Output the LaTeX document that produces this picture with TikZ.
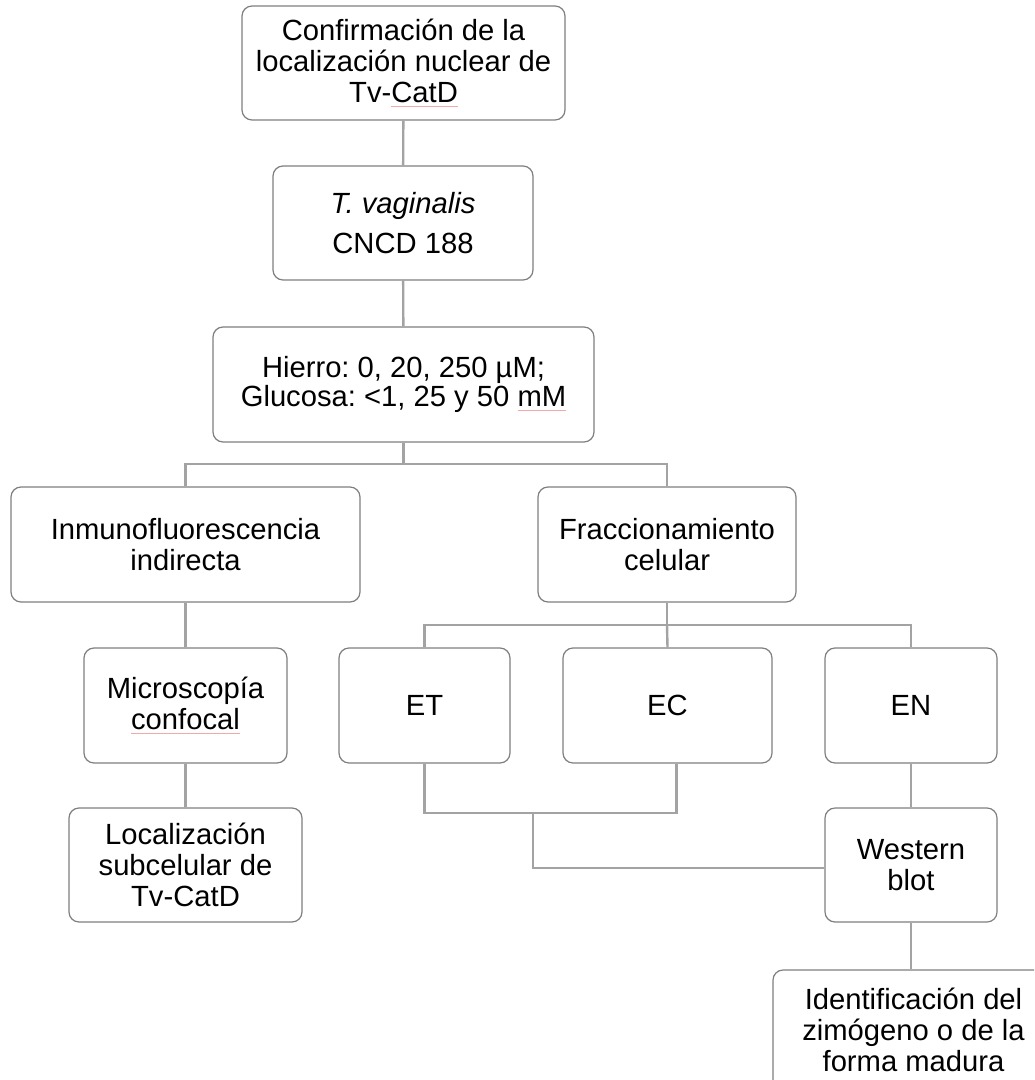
\documentclass[tikz,border=0pt]{standalone}
\usepackage{fontspec}
\setmainfont{Liberation Sans}
\usepackage{xcolor}
\usepackage{tikz}
\definecolor{boxline}{HTML}{7f7f7f}
\definecolor{linkline}{HTML}{a3a3a3}
\definecolor{spellred}{HTML}{f2a9a9}
\newcommand{\spellmark}[1]{\setbox0\hbox{#1}\leavevmode\rlap{\color{spellred}\rule[-2.2pt]{\wd0}{0.5pt}}\box0}
\frenchspacing
\tikzset{
    flowbox/.style={
        draw=boxline,
        line width=0.6pt,
        rounded corners=5pt,
        fill=white,
        align=center,
        inner sep=0pt,
        font=\fontsize{14.6}{15.5}\selectfont
    },
    link/.style={draw=linkline, line width=1.2pt},
}

\begin{document}
\begin{tikzpicture}[x=0.5pt, y=-0.5pt]
        \def\px{0.5pt}
        \useasboundingbox (0,0) rectangle (1034,1080);
        \clip (0,0) rectangle (1034,1080);

        % Main column
        \node[flowbox, minimum width=323*\px, minimum height=114*\px] (conf) at (403.5,63)
            {Confirmación de la\\localización nuclear de\\Tv-\spellmark{CatD}};
        \node[flowbox, minimum width=260*\px, minimum height=114*\px] (tv) at (403,223)
            {\textit{T. vaginalis}\\[4.5pt]CNCD 188};
        \node[flowbox, minimum width=381*\px, minimum height=115*\px] (hierro) at (403.5,384.5)
            {Hierro: 0, 20, 250 µM;\\[-1pt]Glucosa: <1, 25 y 50 \spellmark{mM}};

        % Left branch: Inmunofluorescencia
        \node[flowbox, minimum width=349*\px, minimum height=115*\px] (inmuno) at (185.5,544.5)
            {Inmunofluorescencia\\indirecta};
        \node[flowbox, minimum width=203*\px, minimum height=115*\px] (micro) at (185.5,705.5)
            {Microscopía\\\spellmark{confocal}};
        \node[flowbox, minimum width=233*\px, minimum height=114*\px] (loc) at (185.5,865)
            {Localización\\subcelular de\\Tv-CatD};

        % Right branch: Fraccionamiento
        \node[flowbox, minimum width=258*\px, minimum height=115*\px] (fracc) at (667,544.5)
            {Fraccionamiento\\celular};
        \node[flowbox, minimum width=171*\px, minimum height=115*\px] (et) at (424.5,705.5) {ET};
        \node[flowbox, minimum width=209*\px, minimum height=115*\px] (ec) at (667.5,705.5) {EC};
        \node[flowbox, minimum width=172*\px, minimum height=115*\px] (en) at (911,705.5) {EN};
        \node[flowbox, minimum width=172*\px, minimum height=114*\px] (wb) at (911,865)
            {Western\\blot};
        \node[flowbox, minimum width=281*\px, minimum height=120*\px] (ident) at (913.5,1030)
            {Identificación del\\zimógeno o de la\\forma madura};

        % Connectors
        \coordinate (split1) at (403.5,464);
        \coordinate (split2) at (667,625);
        \coordinate (join1) at (533,813);

        \draw[link] (conf) -- (tv);
        \draw[link] (tv) -- (hierro);
        \draw[link] (hierro) -- (split1);
        \draw[link] (split1) -| (inmuno.north);
        \draw[link] (split1) -| (fracc.north);
        \draw[link] (inmuno) -- (micro);
        \draw[link] (micro) -- (loc);
        \draw[link] (fracc) -- (split2);
        \draw[link] (split2) -| (et.north);
        \draw[link] (split2) -| (en.north);
        \draw[link] (split2) -- (ec.north);
        \draw[link] (et.south) |- (join1) -| ([xshift=9*\px]ec.south);
        \draw[link] (join1) |- ([yshift=-3*\px]wb.west);
        \draw[link] (en) -- (wb);
        \draw[link] (wb) -- (wb |- ident.north);
\end{tikzpicture}
\end{document}
